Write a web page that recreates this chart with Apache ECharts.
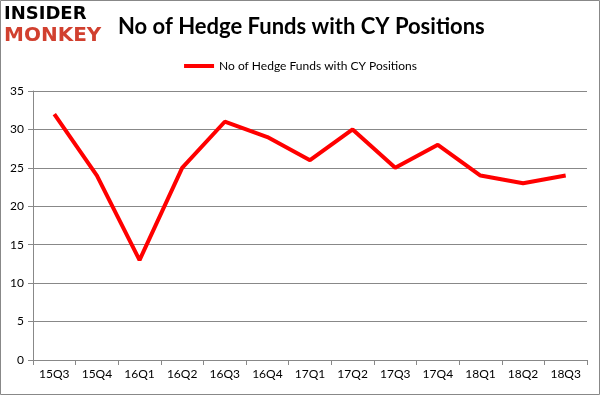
<!DOCTYPE html>
<html><head><meta charset="utf-8">
<script src="https://cdn.jsdelivr.net/npm/echarts@6/dist/echarts.min.js"></script>
<style>html,body{margin:0;padding:0;background:#fff}#c{width:601px;height:396px}</style>
</head><body><div id="c"></div>
<script>
const categories = ['15Q3','15Q4','16Q1','16Q2','16Q3','16Q4','17Q1','17Q2','17Q3','17Q4','18Q1','18Q2','18Q3'];
const values = [32, 24, 13, 25, 31, 29, 26, 30, 25, 28, 24, 23, 24];
const seriesName = 'No of Hedge Funds with CY Positions';
const titleText = 'No of Hedge Funds with CY Positions';

const chart = echarts.init(document.getElementById('c'));
chart.setOption({
  animation: false,
  title: {
    text: titleText, left: 113, top: 11,
    textStyle: {fontFamily: 'Lato', fontWeight: 'bold', fontSize: 22, color: '#000'}
  },
  legend: {
    data: [seriesName], left: 'center', top: 55,
    itemWidth: 30, itemHeight: 4, itemGap: 5,
    icon: 'rect',
    textStyle: {fontFamily: 'Lato', fontSize: 12, color: '#000'}
  },
  graphic: [
    {type: 'rect', shape: {x: 0.5, y: 0.5, width: 599, height: 394}, style: {fill: 'none', stroke: '#888', lineWidth: 1}, silent: true},
    {type: 'text', left: 4, top: 5, style: {text: 'INSIDER', fontFamily: 'DejaVu Sans', fontWeight: 'bold', fontSize: 18, fill: '#000'}},
    {type: 'text', left: 4, top: 26, style: {text: 'MONKEY', fontFamily: 'DejaVu Sans', fontWeight: 'bold', fontSize: 20, fill: '#d1402f'}}
  ],
  grid: {left: 33, right: 14, top: 91, bottom: 36},
  xAxis: {
    type: 'category', data: categories, boundaryGap: true,
    axisLine: {lineStyle: {color: '#888'}},
    axisTick: {show: true, length: 5, lineStyle: {color: '#888'}},
    axisLabel: {color: '#000', fontFamily: 'Lato', fontSize: 12, margin: 8}
  },
  yAxis: {
    type: 'value', min: 0, max: 35, interval: 5,
    axisLine: {show: true, lineStyle: {color: '#888'}},
    axisTick: {show: true, length: 5, lineStyle: {color: '#888'}},
    splitLine: {lineStyle: {color: '#888'}},
    axisLabel: {color: '#000', fontFamily: 'Lato', fontSize: 12, margin: 9}
  },
  series: [{
    name: seriesName, type: 'line', data: values,
    symbol: 'none',
    lineStyle: {color: '#ff0000', width: 4},
    itemStyle: {color: '#ff0000'}
  }]
});
</script></body></html>
